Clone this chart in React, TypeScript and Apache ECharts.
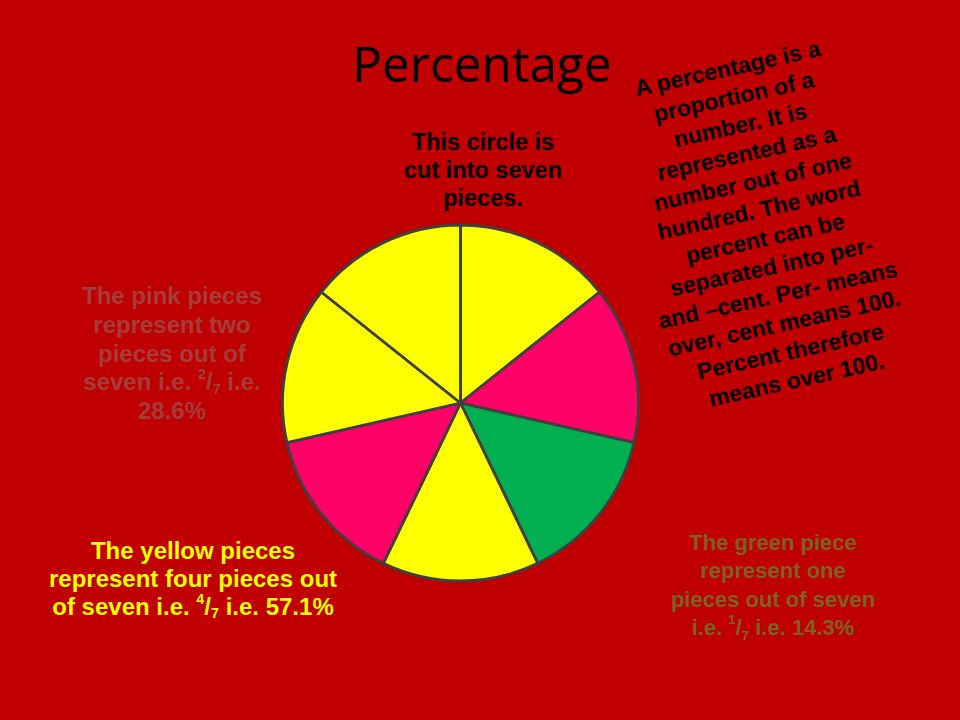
import React, { useEffect, useRef } from "react";
import * as echarts from "echarts";

const sliceNames = ["Yellow 1", "Pink 1", "Green", "Yellow 2", "Pink 2", "Yellow 3", "Yellow 4"];
const sliceValues = [1, 1, 1, 1, 1, 1, 1];
const sliceColors = ["#FFFF00", "#FF0066", "#00B050", "#FFFF00", "#FF0066", "#FFFF00", "#FFFF00"];

const titleText = "Percentage";
const centerLines = ["This circle is", "cut into seven", "pieces."];
const pinkLines = ["The pink pieces", "represent two", "pieces out of", "seven i.e. {sup|2}/{sub|7} i.e.", "28.6%"];
const yellowLines = ["The yellow pieces", "represent four pieces out", "of seven i.e. {sup|4}/{sub|7} i.e. 57.1%"];
const greenLines = ["The green piece", "represent one", "pieces out of seven", "i.e. {sup|1}/{sub|7} i.e. 14.3%"];
const defLines = [
  "A percentage is a",
  "proportion of a",
  "number. It is",
  "represented as a",
  "number out of one",
  "hundred. The word",
  "percent can be",
  "separated into per-",
  "and \u2013cent. Per- means",
  "over, cent means 100.",
  "Percent therefore",
  "means over 100.",
];

const FONT = "'Liberation Sans', Arial, sans-serif";

function fracRich(color: string, size: number, lh: number) {
  return {
    sup: { fontSize: size * 0.6, fontWeight: "bold", fontFamily: FONT, fill: color, verticalAlign: "top", lineHeight: lh },
    sub: { fontSize: size * 0.6, fontWeight: "bold", fontFamily: FONT, fill: color, verticalAlign: "bottom", lineHeight: lh },
  };
}

function block(lines: string[], x: number, y: number, color: string, size: number, rotation = 0, lh = 28.5) {
  return {
    type: "text",
    x,
    y,
    rotation,
    style: {
      text: lines.join("\n"),
      fill: color,
      fontFamily: FONT,
      fontWeight: "bold",
      fontSize: size,
      lineHeight: lh,
      align: "center",
      verticalAlign: "middle",
      rich: fracRich(color, size, lh),
    },
  };
}

export default function App() {
  const ref = useRef<HTMLDivElement>(null);
  useEffect(() => {
    document.body.style.margin = "0";
    const chart = echarts.init(ref.current!, null, { renderer: "svg" });
    chart.setOption({
      animation: false,
      backgroundColor: "#C00000",
      series: [
        {
          type: "pie",
          center: [460.5, 403],
          radius: 178,
          startAngle: 90,
          clockwise: true,
          label: { show: false },
          labelLine: { show: false },
          emphasis: { disabled: true },
          itemStyle: { borderColor: "#3F3F3F", borderWidth: 2.8 },
          data: sliceNames.map((n, i) => ({ name: n, value: sliceValues[i], itemStyle: { color: sliceColors[i] } })),
        },
      ],
      graphic: [
        {
          type: "text",
          x: 482,
          y: 63,
          style: {
            text: titleText,
            fill: "#000000",
            fontFamily: "'Open Sans', sans-serif",
            fontSize: 49.5,
            align: "center",
            verticalAlign: "middle",
          },
        },
        block(centerLines, 483, 170, "#000000", 23.5, 0, 28),
        block(pinkLines, 172, 353, "#A63C3A", 24, 0, 28.7),
        block(yellowLines, 193, 578, "#FFFF00", 24, 0, 28),
        block(greenLines, 773, 585, "#7F6020", 22, 0, 28.3),
        block(defLines, 762, 224, "#000000", 23, (12.5 * Math.PI) / 180, 29),
      ],
    });
    return () => chart.dispose();
  }, []);
  return <div ref={ref} style={{ width: 960, height: 720 }} />;
}
